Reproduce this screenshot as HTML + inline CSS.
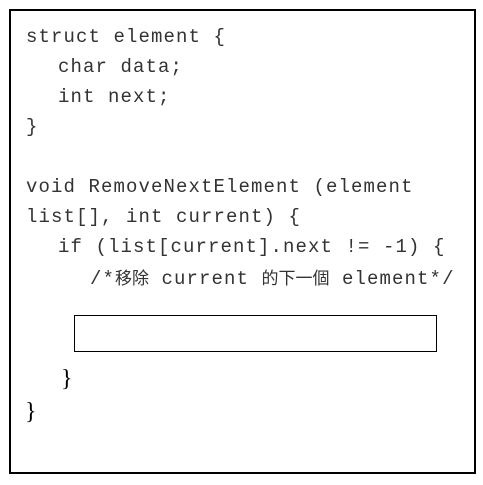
<!DOCTYPE html>
<html><head><meta charset="utf-8"><style>
body{margin:0;width:483px;height:485px;background:#fff;position:relative;overflow:hidden}
.o{position:absolute;left:9px;top:9px;width:463px;height:461px;border:2px solid #000}
.t{position:absolute;font-family:"Liberation Mono",monospace;font-size:19px;letter-spacing:1.1px;color:#333;white-space:pre;line-height:24px}
.c{font-family:"Noto Sans CJK TC","WenQuanYi Zen Hei",sans-serif;font-size:17px;letter-spacing:0}
.b{position:absolute;left:74px;top:315px;width:361px;height:35px;border:1.5px solid #000}
.s{position:absolute;font-family:"Liberation Serif",serif;font-size:24px;line-height:28px;color:#000}
</style></head><body>
<div class="o"></div>
<div class="t" style="left:26px;top:25px">struct element {</div>
<div class="t" style="left:58px;top:55px">char data;</div>
<div class="t" style="left:58px;top:85px">int next;</div>
<div class="t" style="left:26px;top:115px">}</div>
<div class="t" style="left:26px;top:175px">void RemoveNextElement (element</div>
<div class="t" style="left:26px;top:205px">list[], int current) {</div>
<div class="t" style="left:58px;top:235px">if (list[current].next != -1) {</div>
<div class="t" style="left:90px;top:265px">/*<span class="c">移除</span> current <span class="c">的下一個</span> element*/</div>
<div class="b"></div>
<div class="s" style="left:61px;top:365px">}</div>
<div class="s" style="left:25px;top:398px">}</div>
</body></html>
